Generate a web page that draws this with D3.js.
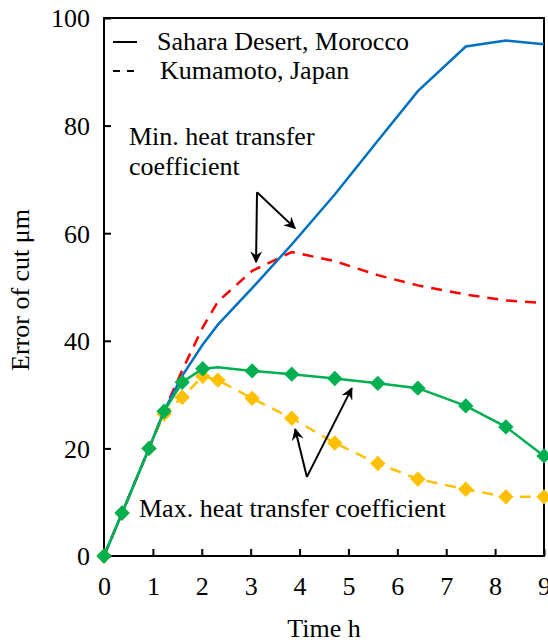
<!DOCTYPE html>
<html>
<head>
<meta charset="utf-8">
<script src="https://cdn.jsdelivr.net/npm/d3@7"></script>
<style>
  body { margin: 0; background: #fff; }
  svg text { font-family: "Liberation Serif", "Times New Roman", serif; fill: #000; }
</style>
</head>
<body>
<div id="chart"></div>
<script>
// time samples (h)
var times = [0, 0.37, 0.92, 1.23, 1.6, 2.02, 2.33, 3.03, 3.84, 4.72, 5.6, 6.42, 7.4, 8.22, 9];

// Sahara Desert, min. heat transfer coefficient (solid blue)
var saharaMin = [0, 8, 20, 27, 33.5, 39.3, 43, 49.8, 57.9, 67.2, 77.2, 86.4, 94.7, 95.8, 95.1];
// Kumamoto, min. heat transfer coefficient (dashed red)
var kumamotoMin = [0, 8, 20, 27, 34.5, 42.5, 47.3, 53, 56.5, 54.8, 52.2, 50.3, 48.6, 47.5, 47];
// Sahara Desert, max. heat transfer coefficient (solid green, markers)
var saharaMax = [0, 8, 20, 26.9, 32.3, 34.8, 35.1, 34.4, 33.8, 33.0, 32.1, 31.2, 27.9, 24.0, 18.6];
// Kumamoto, max. heat transfer coefficient (dashed yellow, markers)
var kumamotoMax = [0, 8, 20, 26.4, 29.5, 33.4, 32.7, 29.3, 25.6, 21.0, 17.2, 14.3, 12.4, 11.0, 11.0];
// which samples carry a marker on the max curves
var markerIdx = [0, 1, 2, 3, 4, 5, 7, 8, 9, 10, 11, 12, 13, 14];
var markerIdxK = [0, 1, 2, 3, 4, 5, 6, 7, 8, 9, 10, 11, 12, 13, 14];

var xTicks = [0, 1, 2, 3, 4, 5, 6, 7, 8, 9];
var yTicks = [0, 20, 40, 60, 80, 100];

var legendItems = [
  {label: "Sahara Desert, Morocco", dash: null},
  {label: "Kumamoto, Japan", dash: "7,7"}
];

// annotation arrows in data units: [fromX, fromY, toX, toY]
var minArrows = [[3.13, 67.6, 3.11, 54.6], [3.13, 67.6, 3.91, 60.9]];
var maxArrows = [[4.15, 14.7, 3.91, 23.6], [4.15, 14.7, 5.07, 31.2]];

var W = 548, H = 642;
var margin = {top: 18, right: 4, bottom: 86, left: 104};
var iw = W - margin.left - margin.right;
var ih = H - margin.top - margin.bottom;

var svg = d3.select("#chart").append("svg")
  .attr("width", W).attr("height", H);

var defs = svg.append("defs");
defs.append("marker")
  .attr("id", "head")
  .attr("viewBox", "0 0 12 12")
  .attr("refX", 11).attr("refY", 6)
  .attr("markerWidth", 12).attr("markerHeight", 12)
  .attr("markerUnits", "userSpaceOnUse")
  .attr("orient", "auto")
  .append("path")
  .attr("d", "M0,0 L12,6 L0,12 L4,6 Z")
  .attr("fill", "#000");

var g = svg.append("g")
  .attr("transform", "translate(" + margin.left + "," + margin.top + ")");

var x = d3.scaleLinear().domain([0, 9]).range([0, iw]);
var y = d3.scaleLinear().domain([0, 100]).range([ih, 0]);

// axes, ticks pointing inward
var xAxis = g.append("g")
  .attr("transform", "translate(0," + ih + ")")
  .call(d3.axisBottom(x).tickValues(xTicks).tickSize(-7).tickPadding(21).tickFormat(d3.format("d")));
var yAxis = g.append("g")
  .call(d3.axisLeft(y).tickValues(yTicks).tickSize(-7).tickPadding(14).tickFormat(d3.format("d")));

[xAxis, yAxis].forEach(function(a) {
  a.select(".domain").remove();
  a.selectAll("line").attr("stroke", "#000").attr("stroke-width", 2);
  a.selectAll("text").style("font-size", "26px").attr("fill", "#000");
});
yAxis.selectAll("text").attr("dy", "0.34em");

// frame
g.append("rect")
  .attr("x", 0).attr("y", 0).attr("width", iw).attr("height", ih)
  .attr("fill", "none").attr("stroke", "#000").attr("stroke-width", 2);

// axis titles
svg.append("text")
  .attr("x", margin.left + iw / 2).attr("y", 637)
  .attr("text-anchor", "middle")
  .style("font-size", "26px")
  .text("Time h");
svg.append("text")
  .attr("transform", "translate(29," + (margin.top + ih / 2 + 3) + ") rotate(-90)")
  .attr("text-anchor", "middle")
  .style("font-size", "26px")
  .text("Error of cut μm");

var line = d3.line()
  .x(function(d) { return x(d[0]); })
  .y(function(d) { return y(d[1]); });

function pairs(vals) { return times.map(function(t, i) { return [t, vals[i]]; }); }

var series = [
  {vals: kumamotoMax, color: "#FFC000", dash: "11,8", idx: markerIdxK},
  {vals: kumamotoMin, color: "#FF0000", dash: "11,8", idx: null},
  {vals: saharaMin, color: "#0070C0", dash: null, idx: null},
  {vals: saharaMax, color: "#00B050", dash: null, idx: markerIdx}
];

series.forEach(function(s) {
  var pts = pairs(s.vals);
  g.append("path")
    .datum(pts)
    .attr("d", line)
    .attr("fill", "none")
    .attr("stroke", s.color)
    .attr("stroke-width", 2.5)
    .attr("stroke-dasharray", s.dash);
  if (s.idx) {
    g.selectAll(null)
      .data(s.idx.map(function(i) { return pts[i]; }))
      .enter()
      .append("path")
      .attr("transform", function(d) { return "translate(" + x(d[0]) + "," + y(d[1]) + ")"; })
      .attr("d", d3.symbol().type(d3.symbolDiamond2).size(150)())
      .attr("fill", s.color);
  }
});

// legend
var legend = g.append("g").attr("transform", "translate(9,24)");
legendItems.forEach(function(item, i) {
  var row = legend.append("g").attr("transform", "translate(0," + (i * 29) + ")");
  row.append("line")
    .attr("x1", 0).attr("x2", 24).attr("y1", 0).attr("y2", 0)
    .attr("stroke", "#000").attr("stroke-width", 2)
    .attr("stroke-dasharray", item.dash);
  row.append("text")
    .attr("x", 44 + i * 3).attr("y", 8)
    .style("font-size", "26px")
    .text(item.label);
});

// annotations
function drawArrows(list) {
  list.forEach(function(a) {
    g.append("line")
      .attr("x1", x(a[0])).attr("y1", y(a[1]))
      .attr("x2", x(a[2])).attr("y2", y(a[3]))
      .attr("stroke", "#000").attr("stroke-width", 2)
      .attr("marker-end", "url(#head)");
  });
}
drawArrows(minArrows);
drawArrows(maxArrows);

var minText = g.append("text")
  .attr("x", 25).attr("y", 127)
  .style("font-size", "26px");
minText.append("tspan").attr("x", 25).text("Min. heat transfer");
minText.append("tspan").attr("x", 25).attr("dy", 30).text("coefficient");

g.append("text")
  .attr("x", 35).attr("y", 499)
  .style("font-size", "26px")
  .text("Max. heat transfer coefficient");
</script>
</body>
</html>
